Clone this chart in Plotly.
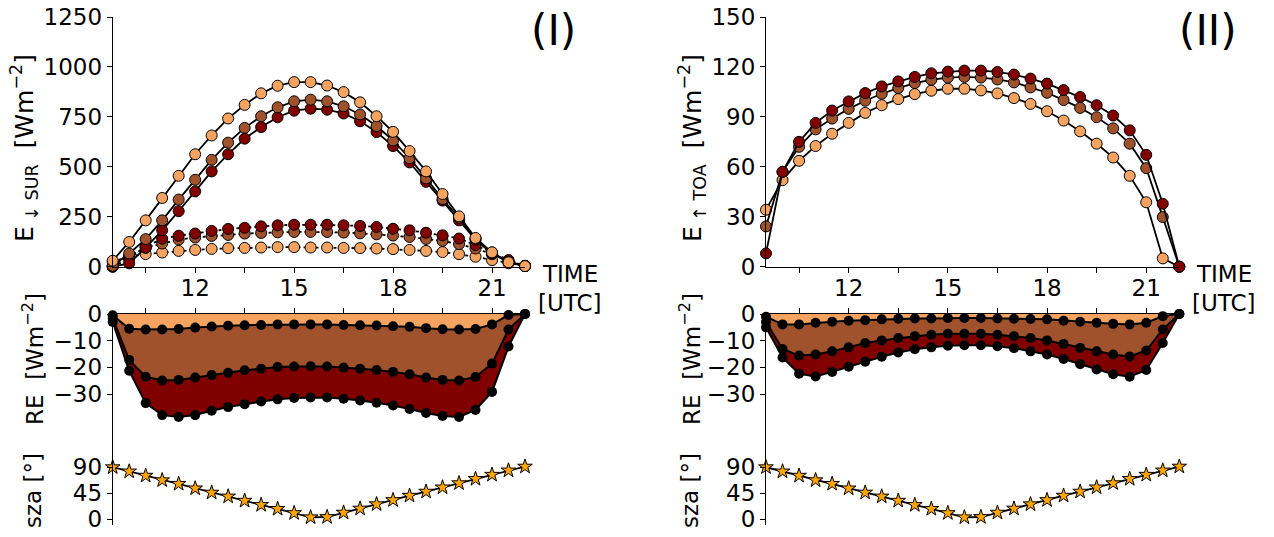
import plotly.graph_objects as go

W, H = 1274, 537

# ---------------- data ----------------
time_utc = [9.5, 10.0, 10.5, 11.0, 11.5, 12.0, 12.5, 13.0, 13.5, 14.0, 14.5, 15.0, 15.5,
            16.0, 16.5, 17.0, 17.5, 18.0, 18.5, 19.0, 19.5, 20.0, 20.5, 21.0, 21.5, 22.0]

# Panel (I): downward irradiance at surface
sur_light_solid = [30, 124, 232, 344, 455, 563, 657, 742, 810, 868, 906, 924, 924,
                   907, 874, 823, 753, 675, 579, 477, 364, 252, 144, 72, 22, 3]
sur_mid_solid = [5, 66, 138, 232, 336, 435, 535, 621, 695, 753, 798, 828, 836,
                 828, 803, 762, 704, 632, 543, 442, 339, 245, 140, 68, 24, 3]
sur_dark_solid = [0, 17, 95, 182, 278, 377, 477, 563, 641, 699, 748, 781, 791,
                  786, 767, 728, 674, 604, 522, 425, 331, 232, 135, 65, 25, 3]
sur_light_dot = [25, 50, 63, 71, 79, 84, 89, 93, 94, 96, 98, 98, 96,
                 96, 94, 93, 91, 88, 84, 79, 73, 63, 50, 33, 17, 3]
sur_mid_dot = [3, 55, 95, 116, 136, 146, 154, 159, 166, 169, 172, 174, 174,
               174, 171, 167, 162, 156, 149, 139, 129, 113, 91, 63, 30, 3]
sur_dark_dot = [0, 40, 100, 140, 155, 166, 179, 189, 195, 202, 207, 210, 210,
                210, 207, 204, 199, 190, 182, 170, 157, 141, 108, 71, 33, 5]

# Panel (II): upward irradiance at TOA
toa_dark = [8, 57, 75, 86.4, 93.8, 99.3, 104.3, 108.3, 111.3, 114, 116.2, 117.2, 117.8,
            117.8, 117, 115.4, 113, 110, 106.1, 101.9, 97, 90.8, 81.9, 67.2, 37.8, 0]
toa_mid = [24.2, 57, 72, 82.5, 89, 94.8, 99.7, 103.9, 107.3, 110.3, 112.3, 113.6, 114,
           113.6, 112.5, 110.7, 107.7, 104.5, 100.1, 95.4, 89.8, 83.1, 73.9, 59.2, 29.8, 0]
toa_light = [34.2, 52, 63.6, 72.5, 79.9, 86.4, 92.4, 97, 100.7, 103.7, 105.7, 106.9, 106.9,
             105.9, 104.1, 101.3, 97.8, 93.4, 87.8, 81.3, 73.9, 65.6, 54.6, 38.7, 5, 0]

# Radiative effect, panel (I)
re1_I = [-0.5, -5.5, -5.8, -5.8, -5.6, -5.1, -4.7, -4.4, -4.2, -4.1, -3.9, -3.9, -3.9,
         -3.9, -4.1, -4.2, -4.3, -4.6, -4.8, -5.3, -5.7, -5.8, -5.6, -3.9, -0.4, 0]
re2_I = [-1.5, -17.2, -23.5, -24.9, -24.7, -23.8, -22.9, -22, -21.1, -20.5, -19.9, -19.7, -19.6,
         -19.7, -20.1, -20.5, -21, -21.7, -22.6, -23.8, -24.7, -24.9, -23.6, -18.6, -5.8, 0]
re3_I = [-3, -21.3, -33.4, -37.9, -38.6, -37.9, -36.3, -34.9, -33.8, -32.8, -32, -31.5, -31.3,
         -31.3, -31.8, -32.4, -33.3, -34.3, -35.6, -37.1, -38.2, -38.6, -36, -29.2, -12.2, 0]

# Radiative effect, panel (II)
re1_II = [-1, -3.9, -3.9, -3.3, -2.9, -2.5, -2.3, -2, -1.8, -1.7, -1.7, -1.5, -1.5,
          -1.5, -1.7, -1.8, -1.9, -2, -2.5, -2.9, -3.3, -3.7, -3.9, -3.3, -0.8, 0]
re2_II = [-3, -13.1, -15.6, -15.2, -14, -12.5, -10.9, -9.9, -9, -8.3, -7.8, -7.4, -7.4,
          -7.4, -7.8, -8.3, -9, -9.9, -11.2, -12.7, -14, -15.2, -15.9, -13.7, -5.8, 0]
re3_II = [-5, -16.3, -22.4, -23.4, -21.7, -19.8, -17.9, -16, -14.4, -13.2, -12.5, -11.9, -11.7,
          -11.7, -12.1, -12.8, -14, -15.2, -16.9, -18.8, -20.8, -22.6, -23.5, -21, -10.9, 0]

# Solar zenith angle
sza = [90, 82.7, 75.4, 67.5, 61.3, 53.4, 46.1, 39.4, 32.1, 24.8, 18, 10.7, 3.4,
       3.9, 11.5, 18.5, 26, 33.2, 40.8, 47.8, 55.1, 62.4, 69.8, 77, 84.4, 91.1]

x_tickvals = [10.5, 12, 13.5, 15, 16.5, 18, 19.5, 21]
x_ticktext = ["", "12", "", "15", "", "18", "", "21"]
sur_ticks = [0, 250, 500, 750, 1000, 1250]
toa_ticks = [0, 30, 60, 90, 120, 150]
re_ticks = [0, -10, -20, -30]
re_ticktext = ["0", "\u221210", "\u221220", "\u221230"]
sza_ticks = [0, 45, 90]

LIGHT = "#F4A460"
MID = "#A0522D"
DARK = "#800000"
STAR = "#FFA500"
FONT = "DejaVu Sans"
FS = 23

def px(x):
    return x / W

def py(y):
    return 1 - y / H

XL = [px(112.7), px(525.0)]
XR = [px(766.0), px(1179.3)]
YT = [py(266.7), py(17.0)]
YB = [py(525.0), py(314.0)]

fig = go.Figure()

def line_trace(x, y, color, xa, ya, dash="solid", size=11):
    return go.Scatter(x=x, y=y, mode="lines+markers", xaxis=xa, yaxis=ya,
                      line=dict(color="black", width=1.8, dash=dash),
                      marker=dict(size=size, color=color, line=dict(color="black", width=1)),
                      cliponaxis=False, showlegend=False, hoverinfo="skip")

# Panel I top
for ys, col in [(sur_light_dot, LIGHT), (sur_mid_dot, MID), (sur_dark_dot, DARK)]:
    fig.add_trace(line_trace(time_utc, ys, col, "x", "y", dash="dot"))
for ys, col in [(sur_dark_solid, DARK), (sur_mid_solid, MID), (sur_light_solid, LIGHT)]:
    fig.add_trace(line_trace(time_utc, ys, col, "x", "y"))

# Panel II top
for ys, col in [(toa_light, LIGHT), (toa_mid, MID), (toa_dark, DARK)]:
    fig.add_trace(line_trace(time_utc, ys, col, "x3", "y4"))

def re_traces(xa, ya, r1, r2, r3):
    zeros = [0] * len(time_utc)
    fig.add_trace(go.Scatter(x=time_utc, y=zeros, mode="lines", xaxis=xa, yaxis=ya,
                             line=dict(width=0, color="rgba(0,0,0,0)"), showlegend=False,
                             hoverinfo="skip"))
    for r, col in [(r1, LIGHT), (r2, MID), (r3, DARK)]:
        fig.add_trace(go.Scatter(x=time_utc, y=r, mode="lines+markers", xaxis=xa, yaxis=ya,
                                 fill="tonexty", fillcolor=col,
                                 line=dict(color="black", width=2),
                                 marker=dict(size=10, color="black"),
                                 cliponaxis=False, showlegend=False, hoverinfo="skip"))

re_traces("x2", "y2", re1_I, re2_I, re3_I)
re_traces("x4", "y5", re1_II, re2_II, re3_II)

for xa, ya in [("x2", "y3"), ("x4", "y6")]:
    fig.add_trace(go.Scatter(x=time_utc, y=sza, mode="lines+markers", xaxis=xa, yaxis=ya,
                             line=dict(color="black", width=1.8),
                             marker=dict(symbol="star", size=11, color=STAR,
                                         line=dict(color="black", width=1)),
                             cliponaxis=False, showlegend=False, hoverinfo="skip"))

tickfont = dict(family=FONT, size=FS, color="black")
xcommon = dict(range=[9.5, 22.0], showline=True, linecolor="black", linewidth=1,
               ticks="outside", ticklen=5, tickcolor="black", tickvals=x_tickvals,
               ticktext=x_ticktext, showgrid=False, zeroline=False, tickfont=tickfont,
               automargin=False)
ycommon = dict(showline=True, linecolor="black", linewidth=1, ticks="outside", ticklen=5,
               tickcolor="black", showgrid=False, zeroline=False, tickfont=tickfont,
               automargin=False)

fig.update_layout(
    width=W, height=H, autosize=False,
    margin=dict(l=0, r=0, t=0, b=0, pad=0),
    paper_bgcolor="white", plot_bgcolor="rgba(0,0,0,0)",
    font=dict(family=FONT, size=FS, color="black"),
    showlegend=False,
    xaxis=dict(domain=XL, anchor="y", ticklabelstandoff=-4, **xcommon),
    yaxis=dict(domain=YT, anchor="x", range=[0, 1250], tickvals=sur_ticks, **ycommon),
    xaxis2=dict(domain=XL, anchor="y2", side="top", showticklabels=False, **xcommon),
    yaxis2=dict(domain=YB, anchor="x2", range=[-79.1, 0], tickvals=re_ticks,
                ticktext=re_ticktext, **ycommon),
    yaxis3=dict(overlaying="y2", anchor="x2", side="left", range=[-9.9, 355],
                tickvals=sza_ticks, **ycommon),
    xaxis3=dict(domain=XR, anchor="y4", ticklabelstandoff=-4, **xcommon),
    yaxis4=dict(domain=YT, anchor="x3", range=[0, 150], tickvals=toa_ticks, **ycommon),
    xaxis4=dict(domain=XR, anchor="y5", side="top", showticklabels=False, **xcommon),
    yaxis5=dict(domain=YB, anchor="x4", range=[-79.1, 0], tickvals=re_ticks,
                ticktext=re_ticktext, **ycommon),
    yaxis6=dict(overlaying="y5", anchor="x4", side="left", range=[-9.9, 355],
                tickvals=sza_ticks, **ycommon),
)

def ann(text, x, y, size=FS, angle=0):
    fig.add_annotation(text=text, x=px(x), y=py(y), xref="paper", yref="paper",
                       showarrow=False, textangle=angle, xanchor="center", yanchor="middle",
                       font=dict(family=FONT, size=size, color="black"))

ann("(I)", 553, 30, size=42)
ann("(II)", 1208, 30, size=42)
for xc in (570, 1224):
    ann("TIME", xc, 274)
    ann("[UTC]", xc, 303)

ann("E<sub> \u2193 SUR</sub>  [Wm<sup>\u22122</sup>]", 24, 148, size=25, angle=-90)
ann("E<sub> \u2191 TOA</sub>  [Wm<sup>\u22122</sup>]", 692, 148, size=25, angle=-90)
ann("RE  [Wm<sup>\u22122</sup>]", 33, 359, size=23, angle=-90)
ann("RE  [Wm<sup>\u22122</sup>]", 690, 359, size=23, angle=-90)
ann("sza [\u00b0]", 33, 491, size=23, angle=-90)
ann("sza [\u00b0]", 690, 491, size=23, angle=-90)

fig.write_html("out.html", config={"displayModeBar": False},
               post_script="document.body.style.margin='0';document.body.style.overflow='hidden';")
